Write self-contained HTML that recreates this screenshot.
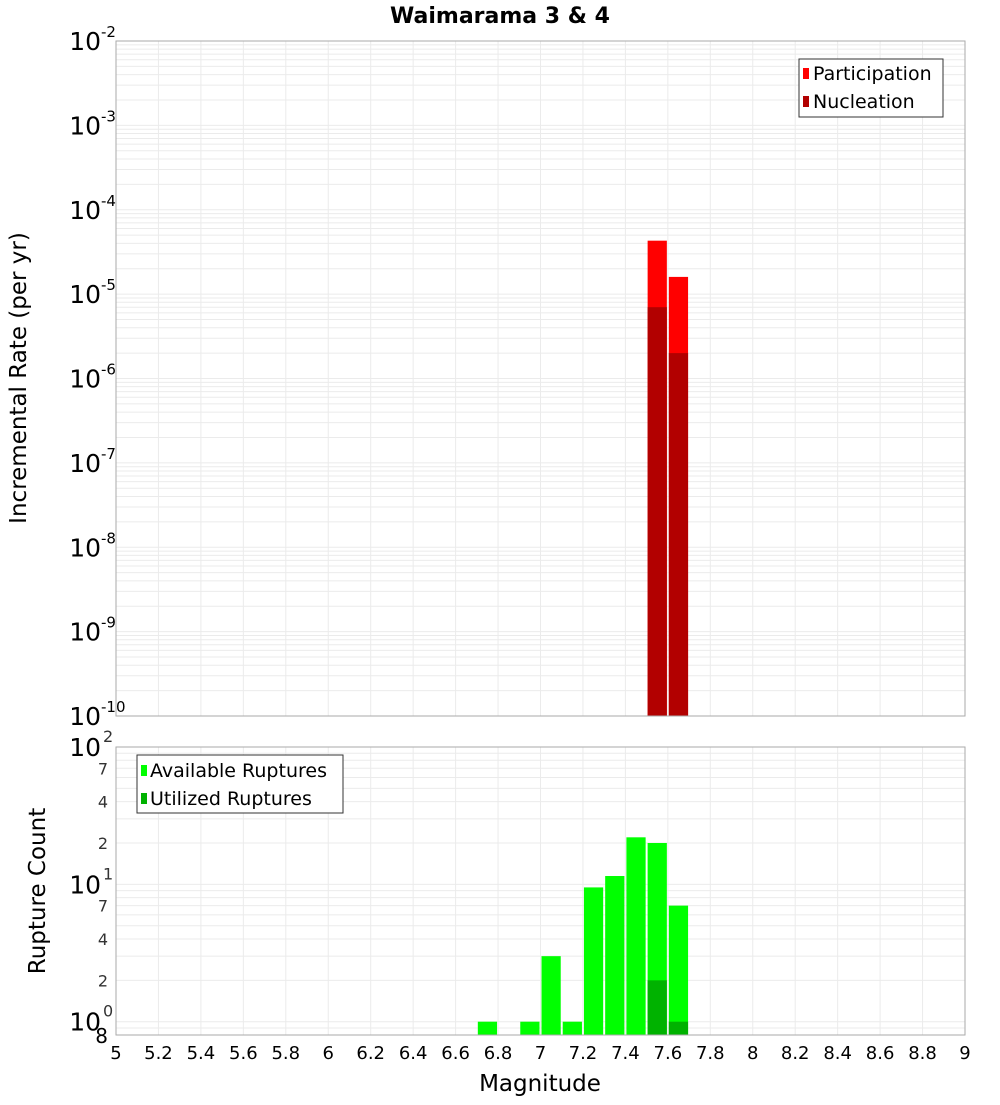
<!DOCTYPE html>
<html><head><meta charset="utf-8"><style>
body{margin:0;background:#fff;}
svg{font-family:"DejaVu Sans","Liberation Sans",sans-serif;}
</style></head><body>
<svg id="c" width="1000" height="1100" xmlns="http://www.w3.org/2000/svg"></svg>
<script>
const binCenters=[7.55,7.65];
const participation=[4.3e-5,1.6e-5];
const nucleation=[7e-6,2e-6];
const countBins=[6.75,6.95,7.05,7.15,7.25,7.35,7.45,7.55,7.65];
const available=[1,1,3,1,9.5,11.5,22,20,7];
const utilizedBins=[7.55,7.65];
const utilized=[2,1];
const xTicks=[5,5.2,5.4,5.6,5.8,6,6.2,6.4,6.6,6.8,7,7.2,7.4,7.6,7.8,8,8.2,8.4,8.6,8.8,9];
const topExps=[-10,-9,-8,-7,-6,-5,-4,-3,-2];
const botMajors=[0,1,2];
const botMinorLabels=[2,4,7];

const S=document.getElementById('c');const NS='http://www.w3.org/2000/svg';
function el(t,a,p){const e=document.createElementNS(NS,t);for(const k in a)e.setAttribute(k,a[k]);(p||S).appendChild(e);return e;}
const X0=116,X1=965;
const xs=v=>X0+(v-5)/4*(X1-X0);
const T0=41,T1=716;
const yt=v=>T0+(-2-Math.log10(v))/8*(T1-T0);
const B0=747,B1=1035;
const yb=v=>B0+(2-Math.log10(v))/(2-Math.log10(0.8))*(B1-B0);

const g=el('g',{});

for(const t of xTicks){for(const [a,b] of [[T0,T1],[B0,B1]]){el('line',{x1:xs(t),x2:xs(t),y1:a,y2:b,stroke:'#ebebeb'},g);}}
for(let e=-10;e<-2;e++)for(let m=1;m<10;m++){const y=yt(m*Math.pow(10,e));el('line',{x1:X0,x2:X1,y1:y,y2:y,stroke:'#ebebeb'},g);}
for(let e=-1;e<2;e++)for(let m=1;m<10;m++){const v=m*Math.pow(10,e);if(v<0.8)continue;const y=yb(v);el('line',{x1:X0,x2:X1,y1:y,y2:y,stroke:'#ebebeb'},g);}

const bw=0.1;
binCenters.forEach((c,i)=>{
 const x=xs(c-bw/2)+1,w=xs(c+bw/2)-xs(c-bw/2)-2;
 const r=el('rect',{x:x,y:yt(participation[i]),width:w,height:T1-yt(participation[i]),fill:'#ff0000'});
 
 const n=el('rect',{x:x,y:yt(nucleation[i]),width:w,height:T1-yt(nucleation[i]),fill:'#b20000'});
 
});
countBins.forEach((c,i)=>{
 const x=xs(c-bw/2)+1,w=xs(c+bw/2)-xs(c-bw/2)-2;
 const r=el('rect',{x:x,y:yb(available[i]),width:w,height:B1-yb(available[i]),fill:'#00ff00'});
 
});
utilizedBins.forEach((c,i)=>{
 const x=xs(c-bw/2)+1,w=xs(c+bw/2)-xs(c-bw/2)-2;
 const r=el('rect',{x:x,y:yb(utilized[i]),width:w,height:B1-yb(utilized[i]),fill:'#00b200'});
 
});

el('rect',{x:X0,y:T0,width:X1-X0,height:T1-T0,fill:'none',stroke:'#aaa'});
el('rect',{x:X0,y:B0,width:X1-X0,height:B1-B0,fill:'none',stroke:'#aaa'});

for(const e of topExps){const y=yt(Math.pow(10,e));
 const t=el('text',{x:101,y:y+9,'text-anchor':'end','font-size':25});
 
 t.textContent='10';
 const s=el('text',{x:101,y:y-4,'font-size':15});s.textContent=String(e);
}
for(const e of botMajors){const y=yb(Math.pow(10,e));
 const t=el('text',{x:101,y:y+9,'text-anchor':'end','font-size':25});
 
 t.textContent='10';
 const s=el('text',{x:103,y:y-5,'font-size':16,fill:'#333'});s.textContent=String(e);
 if(e<2)for(const m of botMinorLabels){const mt=el('text',{x:108,y:yb(m*Math.pow(10,e))+6,'text-anchor':'end','font-size':16,fill:'#333'});mt.textContent=String(m);}
}
{const t=el('text',{x:108,y:B1+8,'text-anchor':'end','font-size':20});t.textContent='8';}
for(const v of xTicks){const t=el('text',{x:xs(v),y:1059,'text-anchor':'middle','font-size':18});
 t.textContent=String(v);}
</script>
<svg style="position:absolute;left:0;top:0" width="1000" height="1100" xmlns="http://www.w3.org/2000/svg" font-family="DejaVu Sans, Liberation Sans, sans-serif">
<text x="500" y="23" text-anchor="middle" font-size="22" font-weight="bold">Waimarama 3 &amp; 4</text>
<text transform="translate(26,378) rotate(-90)" text-anchor="middle" font-size="23">Incremental Rate (per yr)</text>
<text transform="translate(45,891) rotate(-90)" text-anchor="middle" font-size="23">Rupture Count</text>
<text x="540" y="1091" text-anchor="middle" font-size="23">Magnitude</text>
<g>
<rect x="799" y="59" width="144" height="58" fill="#fff" stroke="#333"/>
<rect x="803" y="68" width="6" height="11" fill="#ff0000"/>
<text x="813" y="80" font-size="19">Participation</text>
<rect x="803" y="96" width="6" height="11" fill="#b20000"/>
<text x="813" y="108" font-size="19">Nucleation</text>
</g>
<g>
<rect x="137" y="755" width="206" height="58" fill="#fff" stroke="#333"/>
<rect x="141" y="765" width="6" height="11" fill="#00ff00"/>
<text x="150" y="777" font-size="19">Available Ruptures</text>
<rect x="141" y="793" width="6" height="11" fill="#00b200"/>
<text x="150" y="805" font-size="19">Utilized Ruptures</text>
</g>
</svg>
</body></html>
